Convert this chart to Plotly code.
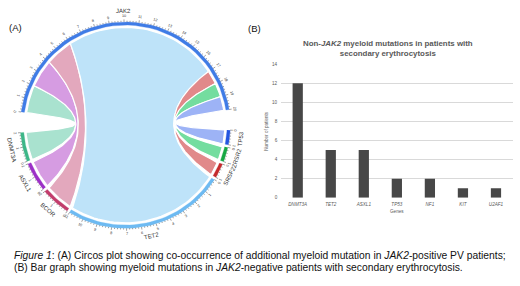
import numpy as np
import plotly.graph_objects as go

# ---------------- data ----------------
# Circos (A): sectors in clockwise order, JAK2 linked to every other gene
sector_names = ["JAK2", "TP53", "ZRSR2", "SRSF2", "TET2", "BCOR", "ASXL1", "DNMT3A"]
link_partners = ["TP53", "ZRSR2", "SRSF2", "TET2", "BCOR", "ASXL1", "DNMT3A"]
link_counts = [1, 1, 1, 11, 2, 2, 2]

# Bar chart (B)
bar_genes = ["DNMT3A", "TET2", "ASXL1", "TP53", "NF1", "KIT", "U2AF1"]
bar_patients = [12, 5, 5, 2, 2, 1, 1]
bar_yticks = [0, 2, 4, 6, 8, 10, 12, 14]

# ---------------- styles ----------------
ring_colors = {"JAK2": "#3f7ce6", "TP53": "#2456e0", "ZRSR2": "#16a843", "SRSF2": "#c42a2c",
               "TET2": "#6dbaf2", "BCOR": "#c23c6c", "ASXL1": "#9c30c7", "DNMT3A": "#3db688"}
chord_colors = {"TP53": "#9db3f6", "ZRSR2": "#74dd9f", "SRSF2": "#e1898a", "TET2": "#bee3f9",
                "BCOR": "#e3a8bd", "ASXL1": "#d69ce2", "DNMT3A": "#a9e2cf"}
FONT = "Liberation Sans, Arial, sans-serif"

CX, CY = 125.3, 125.3
R_CHORD, R_IN, R_OUT = 99.5, 101.8, 105.0
R_TMIN, R_TMAJ, R_TLAB, R_NAME = 106.3, 107.6, 110.8, 116.0
START, U = 172.7, 8.2
GAP_BIG, GAP_SMALL = 11.5, 1.5

sizes = {"JAK2": sum(link_counts)}
for p, c in zip(link_partners, link_counts):
    sizes[p] = c

sector_start = {}
a = START
for s in sector_names:
    sector_start[s] = a
    a -= sizes[s] * U
    a -= GAP_BIG if s == "JAK2" else GAP_SMALL


def ang(s, v):
    return sector_start[s] - v * U


def to_xy(z):
    z = np.asarray(z)
    return list(CX + z.real), list(CY - z.imag)


def arc(t1, t2, r, n=40):
    th = np.radians(np.linspace(t1, t2, n))
    return r * np.exp(1j * th)


def bez(t1, t2, r, n=70):
    p0 = r * np.exp(1j * np.radians(t1))
    p2 = r * np.exp(1j * np.radians(t2))
    m = (p0 + p2) / 2
    d = abs(m)
    if d < 1e-6:
        c = 0
    else:
        cos_a = d / r
        h = 0.5 * d * cos_a
        c = m / d * (d - 2 * h)
    t = np.linspace(0, 1, n)
    return (1 - t) ** 2 * p0 + 2 * t * (1 - t) * c + t ** 2 * p2


def tangent_angle(theta):
    th = (theta + 180) % 360 - 180
    if th >= 0:
        return 90 - th
    return -90 - th


fig = go.Figure()

# chords
offset = 0
for p, c in reversed(list(zip(link_partners, link_counts))):
    a1, a2 = ang("JAK2", offset), ang("JAK2", offset + c)
    b1, b2 = ang(p, 0), ang(p, c)
    path = np.concatenate([arc(a1, a2, R_CHORD), bez(a2, b1, R_CHORD),
                           arc(b1, b2, R_CHORD), bez(b2, a1, R_CHORD)])
    x, y = to_xy(path)
    fig.add_trace(go.Scatter(x=x, y=y, mode="lines", fill="toself",
                             fillcolor=chord_colors[p], line=dict(color="white", width=1.2),
                             hoverinfo="skip", xaxis="x", yaxis="y"))
    offset += c

# ring segments
for s in sector_names:
    t1, t2 = ang(s, 0), ang(s, sizes[s])
    path = np.concatenate([arc(t1, t2, R_OUT), arc(t2, t1, R_IN)])
    x, y = to_xy(path)
    fig.add_trace(go.Scatter(x=x, y=y, mode="lines", fill="toself",
                             fillcolor=ring_colors[s], line=dict(color=ring_colors[s], width=0.3),
                             hoverinfo="skip", xaxis="x", yaxis="y"))

# ticks
tx, ty = [], []
annotations = []
for s in sector_names:
    n_minor = int(round(sizes[s] / 0.2))
    for k in range(n_minor + 1):
        v = k * 0.2
        major = (k % 5 == 0)
        th = ang(s, v)
        z = np.array([R_OUT, R_TMAJ if major else R_TMIN]) * np.exp(1j * np.radians(th))
        xs, ys = to_xy(z)
        tx += xs + [None]
        ty += ys + [None]
    for v in range(sizes[s] + 1):
        th = ang(s, v)
        z = R_TLAB * np.exp(1j * np.radians(th))
        annotations.append(dict(x=CX + z.real, y=CY - z.imag, xref="x", yref="y",
                                text=str(v), showarrow=False, textangle=tangent_angle(th),
                                font=dict(size=3.8, color="#333", family=FONT),
                                xanchor="center", yanchor="middle"))
    mid = (ang(s, 0) + ang(s, sizes[s])) / 2
    z = R_NAME * np.exp(1j * np.radians(mid))
    annotations.append(dict(x=CX + z.real, y=CY - z.imag, xref="x", yref="y",
                            text=s, showarrow=False, textangle=tangent_angle(mid),
                            font=dict(size=6, color="#333", family=FONT),
                            xanchor="center", yanchor="middle"))

fig.add_trace(go.Scatter(x=tx, y=ty, mode="lines", line=dict(color="#444", width=0.5),
                         hoverinfo="skip", xaxis="x", yaxis="y"))

# bar chart
fig.add_trace(go.Bar(x=bar_genes, y=bar_patients, marker=dict(color="#474747", line=dict(width=0)),
                     xaxis="x2", yaxis="y2", hoverinfo="skip"))

W, H = 520, 286
annotations += [
    dict(x=7 / W, y=1 - 26 / H, xref="paper", yref="paper", text="(A)", showarrow=False,
         xanchor="left", yanchor="middle", font=dict(size=9.5, color="#111", family=FONT)),
    dict(x=246 / W, y=1 - 27 / H, xref="paper", yref="paper", text="(B)", showarrow=False,
         xanchor="left", yanchor="middle", font=dict(size=9.5, color="#111", family=FONT)),
    dict(x=387.5 / W, y=1 - 47.5 / H, xref="paper", yref="paper",
         text="<b>Non-<i>JAK2</i> myeloid mutations in patients with<br>secondary erythrocytosis</b>",
         showarrow=False, xanchor="center", yanchor="middle",
         font=dict(size=7.9, color="#595959", family=FONT)),
    dict(x=267 / W, y=1 - 131 / H, xref="paper", yref="paper", text="Number of patients",
         showarrow=False, textangle=-90, xanchor="center", yanchor="middle",
         font=dict(size=4.6, color="#595959", family=FONT)),
    dict(x=397 / W, y=1 - 213 / H, xref="paper", yref="paper", text="Genes",
         showarrow=False, xanchor="center", yanchor="middle",
         font=dict(size=4.6, color="#595959", family=FONT)),
    dict(x=11.5 / W, y=1 - 258.3 / H, xref="paper", yref="paper",
         text="<i>Figure 1</i>: (A) Circos plot showing co-occurrence of additional myeloid mutation in <i>JAK2</i>-positive PV patients;",
         showarrow=False, xanchor="left", yanchor="middle",
         font=dict(size=10.3, color="#111", family=FONT)),
    dict(x=11.5 / W, y=1 - 270 / H, xref="paper", yref="paper",
         text="(B) Bar graph showing myeloid mutations in <i>JAK2</i>-negative patients with secondary erythrocytosis.",
         showarrow=False, xanchor="left", yanchor="middle",
         font=dict(size=10.3, color="#111", family=FONT)),
]

fig.update_layout(
    width=W, height=H, margin=dict(l=0, r=0, t=0, b=0),
    paper_bgcolor="white", plot_bgcolor="rgba(0,0,0,0)", showlegend=False,
    bargap=0.69,
    xaxis=dict(domain=[0, 250 / W], range=[0, 250], visible=False, fixedrange=True),
    yaxis=dict(domain=[0, 1], range=[H, 0], visible=False, fixedrange=True),
    xaxis2=dict(domain=[281.2 / W, 512.5 / W], anchor="y2", type="category",
                showgrid=False, showline=False, ticks="", zeroline=False, ticklabelstandoff=3,
                tickfont=dict(size=4.6, color="#595959", family=FONT, style="italic")),
    yaxis2=dict(domain=[1 - 199.3 / H, 1 - 63.3 / H], anchor="x2", range=[0, 14],
                tickvals=bar_yticks, showgrid=True, gridcolor="#d9d9d9", gridwidth=0.8,
                zeroline=False, showline=False, ticks="", ticklabelstandoff=3,
                tickfont=dict(size=4.6, color="#595959", family=FONT)),
    annotations=annotations,
)

fig.write_html("out.html", config={"displayModeBar": False},
               post_script="document.body.style.margin='0';")
